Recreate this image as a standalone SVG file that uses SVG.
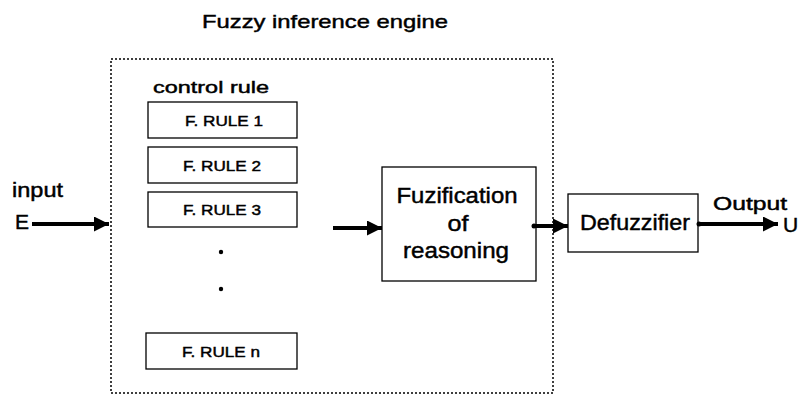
<svg xmlns="http://www.w3.org/2000/svg" width="809" height="396" viewBox="0 0 809 396">
<style>
text{font-family:"Liberation Sans",Arial,sans-serif;fill:#000;stroke:#000;stroke-width:0.45}
.box{fill:#fff;stroke:#000;stroke-width:1.3}
.dot{fill:none;stroke:#000;stroke-width:1.5;stroke-dasharray:2 2}
.arr{stroke:#000;stroke-width:4;fill:none;marker-end:url(#ah)}
.rule{font-size:15px;text-anchor:middle}
.big{font-size:22px;text-anchor:middle}
</style>
<defs>
<marker id="ah" markerUnits="userSpaceOnUse" markerWidth="18" markerHeight="18" refX="15" refY="7.5" orient="auto">
<path d="M0,0 L15,7.5 L0,15 Z" fill="#000"/>
</marker>
</defs>
<rect width="809" height="396" fill="#fff"/>
<g id="engine">
<text x="325" y="28" font-size="19" text-anchor="middle" textLength="246" lengthAdjust="spacingAndGlyphs">Fuzzy inference engine</text>
<rect class="dot" x="111" y="59" width="442" height="334"/>
<text x="153" y="93" font-size="17" textLength="116" lengthAdjust="spacingAndGlyphs">control rule</text>
</g>
<g id="rule1"><rect class="box" x="148" y="102" width="149" height="36"/><text class="rule" x="224" y="126" textLength="78" lengthAdjust="spacingAndGlyphs">F. RULE 1</text></g>
<g id="rule2"><rect class="box" x="148" y="147" width="149" height="36"/><text class="rule" x="222" y="171" textLength="78" lengthAdjust="spacingAndGlyphs">F. RULE 2</text></g>
<g id="rule3"><rect class="box" x="148" y="192" width="149" height="35"/><text class="rule" x="222" y="215" textLength="78" lengthAdjust="spacingAndGlyphs">F. RULE 3</text></g>
<g id="dots"><circle cx="221" cy="252" r="2.2"/><circle cx="221" cy="289" r="2.2"/></g>
<g id="rulen"><rect class="box" x="146" y="333" width="151" height="36"/><text class="rule" x="221" y="357" textLength="78" lengthAdjust="spacingAndGlyphs">F. RULE n</text></g>
<g id="fuzzification"><rect class="box" x="382" y="167" width="154" height="114"/>
<text class="big" x="457" y="203" textLength="121" lengthAdjust="spacingAndGlyphs">Fuzification</text>
<text class="big" x="458" y="231" textLength="21" lengthAdjust="spacingAndGlyphs">of</text>
<text class="big" x="456" y="258" textLength="106" lengthAdjust="spacingAndGlyphs">reasoning</text></g>
<g id="defuzzifier"><rect class="box" x="568" y="194" width="130" height="58"/>
<text class="big" x="635" y="230" textLength="110" lengthAdjust="spacingAndGlyphs">Defuzzifier</text></g>
<g id="input"><text x="12" y="197" font-size="20" textLength="51" lengthAdjust="spacingAndGlyphs">input</text><text x="15" y="229" font-size="21">E</text></g>
<g id="output"><text x="713" y="210" font-size="18" textLength="74" lengthAdjust="spacingAndGlyphs">Output</text><text x="783" y="232" font-size="21">U</text></g>
<g id="connectors">
<line class="arr" x1="32" y1="224" x2="109" y2="224"/>
<line class="arr" x1="333" y1="228" x2="382" y2="228"/>
<circle cx="534" cy="226" r="2.5"/>
<line class="arr" x1="534" y1="226" x2="568" y2="226"/>
<circle cx="699" cy="224" r="2.5"/>
<line class="arr" x1="699" y1="224" x2="778" y2="224"/>
</g>
</svg>
